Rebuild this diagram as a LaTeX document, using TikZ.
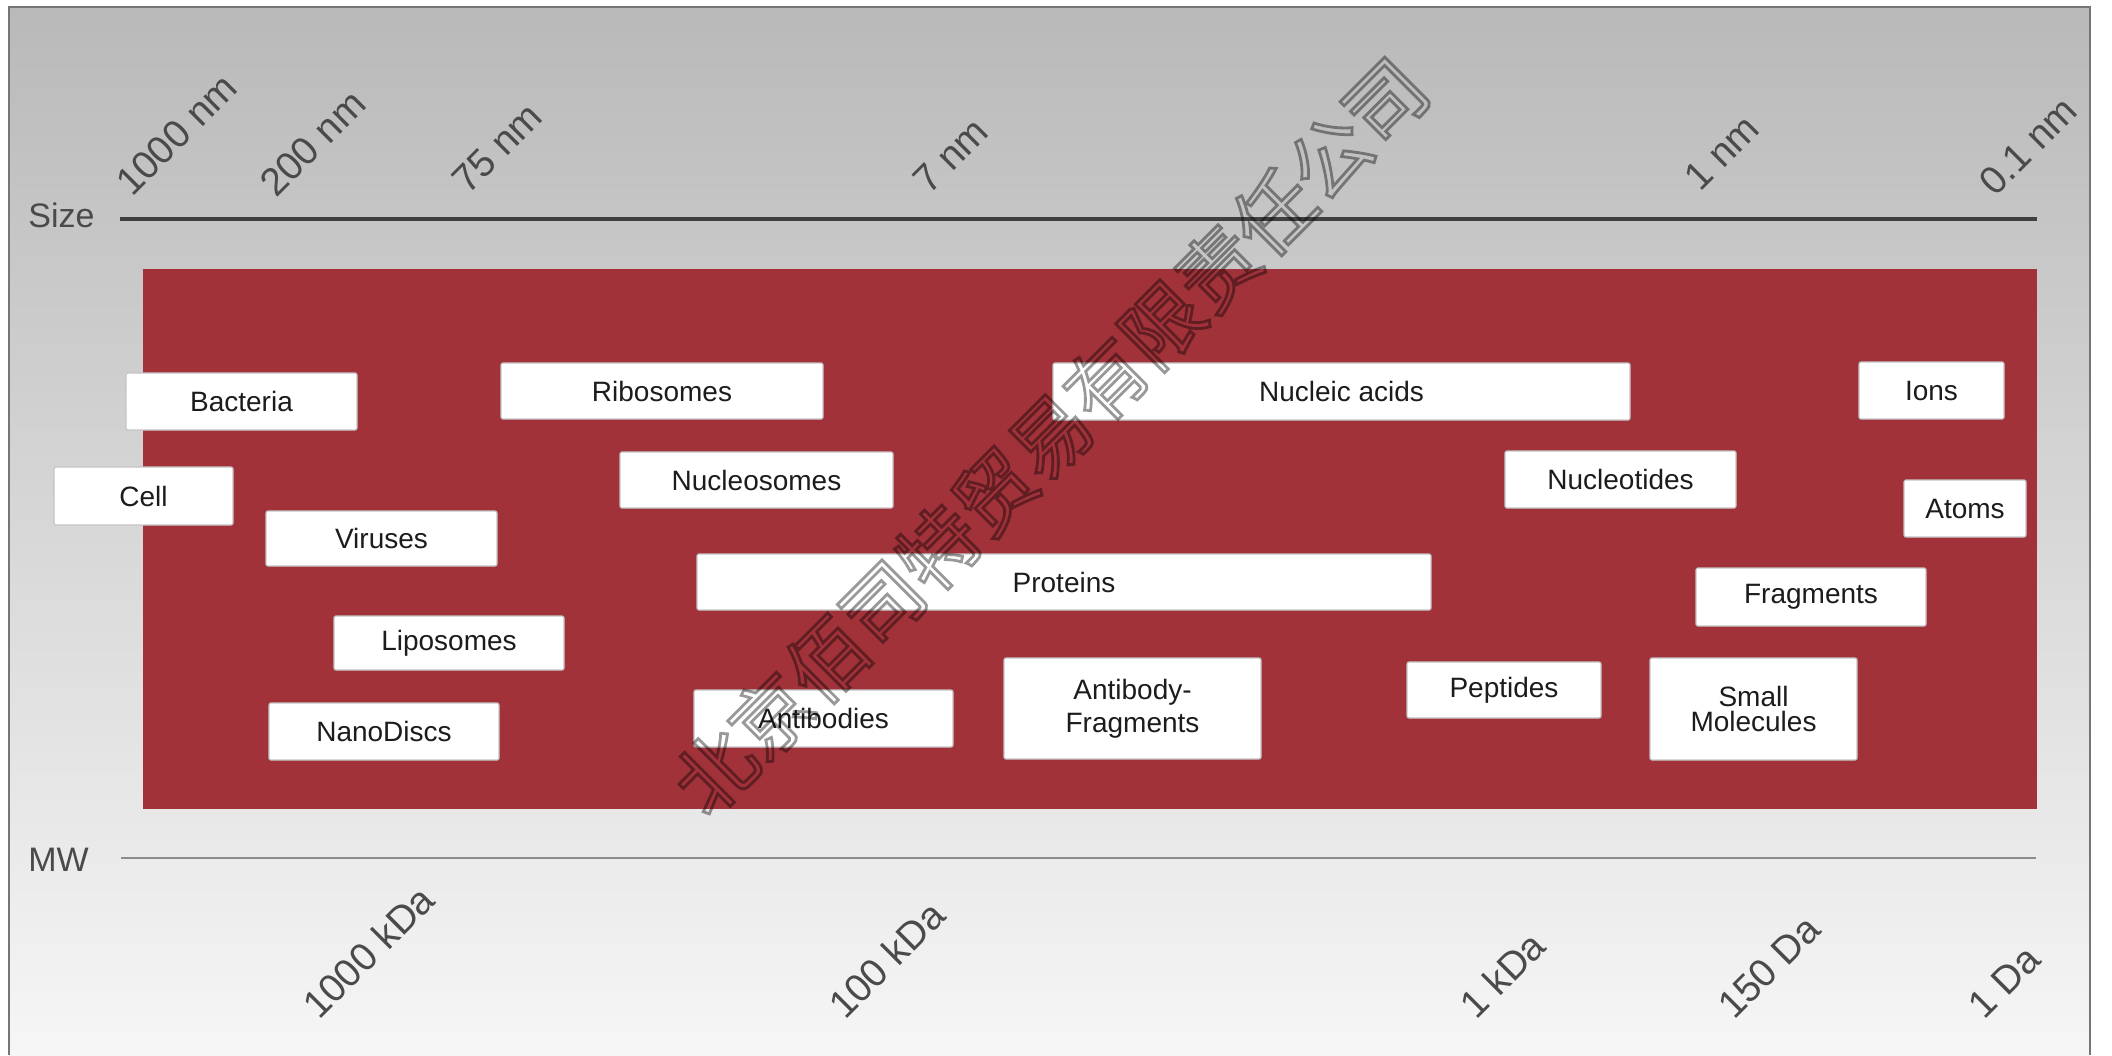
\documentclass[tikz,border=0pt]{standalone}
\usepackage{fontspec}
\setmainfont{Liberation Sans}
\newfontfamily\cjkfont{Noto Sans CJK SC}
\definecolor{bgtop}{HTML}{B9B9B9}
\definecolor{bgbot}{HTML}{F6F6F6}
\definecolor{panelred}{HTML}{A1323A}
\definecolor{framegray}{HTML}{767676}
\definecolor{axtext}{HTML}{4A4A4A}
\definecolor{boxtext}{HTML}{1C1C1C}
\definecolor{boxedge}{HTML}{C4C4C4}
\tikzset{
  box/.style={draw=boxedge, line width=0.6pt, fill=white, rounded corners=1pt,
    inner sep=0pt, align=center, text=boxtext, font=\fontsize{14}{16}\selectfont},
  axlab/.style={rotate=45, anchor=base west, inner sep=0pt, text=axtext,
    font=\fontsize{19.5}{22}\selectfont},
  axname/.style={anchor=west, inner sep=0pt, text=axtext, font=\fontsize{17}{19}\selectfont},
  sizeline/.style={draw=black!75, line width=2pt},
  mwline/.style={draw=black!45, line width=1.2pt},
}
\begin{document}
\begin{tikzpicture}[x=0.5pt,y=-0.5pt]
\useasboundingbox (0,0) rectangle (2112,1055);
% background and frame
\fill[white] (0,0) rectangle (2112,1055);
\shade[top color=bgtop, bottom color=bgbot] (9,7) rectangle (2090,1055);
\draw[framegray, line width=1pt] (9,1055) -- (9,7) -- (2090,7) -- (2090,1055);
% red panel
\fill[panelred] (143,269) rectangle (2037,809);

% axes
\node[axname] (size) at (28,215) {Size};
\node[axname] (mw) at (28,860) {MW};
\coordinate (sizeL) at (120,219);
\coordinate (sizeR) at (2037,219);
\coordinate (mwL) at (121,858);
\coordinate (mwR) at (2036,858);
\draw[sizeline] (sizeL) -- (sizeR);
\draw[mwline] (mwL) -- (mwR);

% size labels
\node[axlab] (n1000) at (132,198) {1000 nm};
\node[axlab] (n200) at (276,199) {200 nm};
\node[axlab] (n75) at (468,196) {75 nm};
\node[axlab] (n7) at (929,196) {7 nm};
\node[axlab] (n1) at (1700,193) {1 nm};
\node[axlab] (n01) at (1995,198) {0.1 nm};

% MW labels
\node[axlab] (k1000) at (319,1021) {1000 kDa};
\node[axlab] (k100) at (845,1021) {100 kDa};
\node[axlab] (k1) at (1476,1021) {1 kDa};
\node[axlab] (d150) at (1734,1021) {150 Da};
\node[axlab] (d1) at (1984,1021) {1 Da};

% boxes
\node[box, minimum width=115.5pt, minimum height=28.5pt] (bacteria) at (241.5,401.5) {Bacteria};
\node[box, minimum width=89.5pt, minimum height=29pt] (cell) at (143.5,496) {Cell};
\node[box, minimum width=115.5pt, minimum height=27.5pt] (viruses) at (381.5,538.5) {Viruses};
\node[box, minimum width=115pt, minimum height=27pt] (liposomes) at (449,643) {Liposomes};
\node[box, minimum width=115pt, minimum height=28.5pt] (nanodiscs) at (384,731.5) {NanoDiscs};
\node[box, minimum width=161pt, minimum height=28pt] (ribosomes) at (662,391) {Ribosomes};
\node[box, minimum width=136.5pt, minimum height=28pt] (nucleosomes) at (756.5,480) {Nucleosomes};
\node[box, minimum width=367pt, minimum height=28pt] (proteins) at (1064,582) {Proteins};
\node[box, minimum width=129.5pt, minimum height=28.5pt] (antibodies) at (823.5,718.5) {Antibodies};
\node[box, minimum width=128.5pt, minimum height=50.5pt, font=\fontsize{14}{16.5}\selectfont] (abfrag) at (1132.5,708.5) {Antibody-\\Fragments};
\node[box, minimum width=288.5pt, minimum height=28.5pt] (nucleic) at (1341.5,391.5) {Nucleic acids};
\node[box, minimum width=115.5pt, minimum height=28.5pt] (nucleotides) at (1620.5,479.5) {Nucleotides};
\node[box, minimum width=97pt, minimum height=28pt] (peptides) at (1504,690) {Peptides};
\node[box, minimum width=103.5pt, minimum height=51pt, font=\fontsize{14}{12.5}\selectfont] (smallmol) at (1753.5,709) {Small\\Molecules};
\node[box, minimum width=115pt, minimum height=29pt] (fragments) at (1811,597) {Fragments};
\node[box, minimum width=72.5pt, minimum height=28.5pt] (ions) at (1931.5,390.5) {Ions};
\node[box, minimum width=61pt, minimum height=28.5pt] (atoms) at (1965,508.5) {Atoms};

% watermark
\begin{scope}[opacity=0.4]
\node[rotate=45, inner sep=0pt, text=black] (wm) at (1050,436)
  {\special{pdf:literal direct 1 Tr 1.4 w}\cjkfont\fontsize{39.5}{39.5}\selectfont 北京佰司特贸易有限责任公司\special{pdf:literal direct 0 Tr}};
\end{scope}
\end{tikzpicture}
\end{document}
